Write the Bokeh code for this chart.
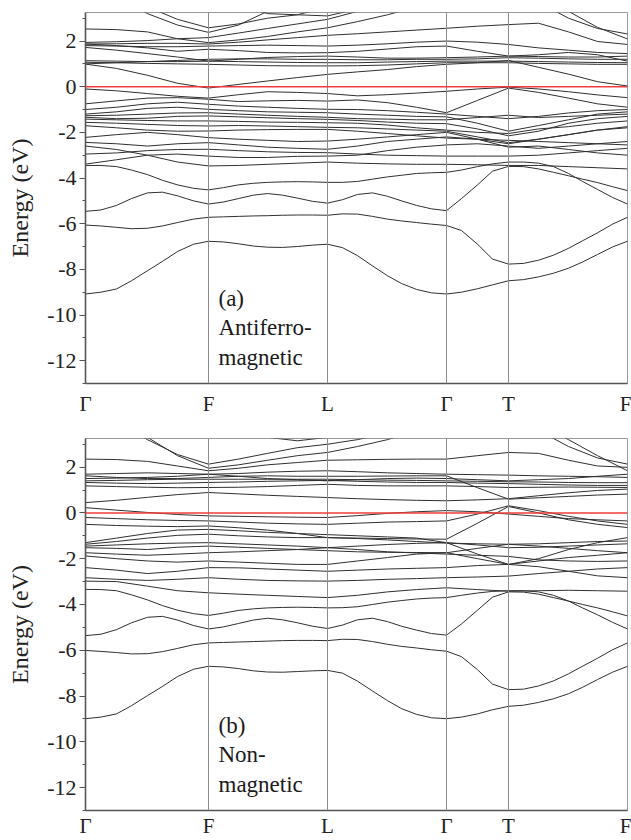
from bokeh.plotting import figure
from bokeh.models import FixedTicker, Span, Label
from bokeh.layouts import column
from bokeh.embed import file_html
from bokeh.resources import INLINE

# ---------------- data ----------------
K_LABELS = ["Γ", "F", "L", "Γ", "T", "F"]
K_TICKS = [0.0, 1.23, 2.42, 3.61, 4.23, 5.42]
# sampling used for the dense bands
K_GRID = [0.0, 0.31, 0.62, 0.92, 1.23, 1.53, 1.82, 2.12, 2.42, 2.72, 3.02,
          3.31, 3.61, 3.92, 4.23, 4.53, 4.83, 5.12, 5.42]
# finer sampling used for the four isolated low bands
K_FINE = [0.0, 0.154, 0.31, 0.46, 0.62, 0.77, 0.92, 1.08, 1.23,
          1.38, 1.53, 1.68, 1.82, 1.97, 2.12, 2.27, 2.42,
          2.57, 2.72, 2.87, 3.02, 3.16, 3.31, 3.46, 3.61,
          3.76, 3.92, 4.07, 4.23,
          4.38, 4.53, 4.68, 4.83, 4.97, 5.12, 5.27, 5.42]
Y_TICKS = [-12, -10, -8, -6, -4, -2, 0, 2]
Y_TICK_LABELS = ["-12", "-10", "-8", "-6", "-4", "-2", "0", "2"]
Y_MINOR = [-13, -11, -9, -7, -5, -3, -1, 1, 3]

# (a) antiferromagnetic
AFM_LOW = [
    [-9.08, -9.00, -8.86, -8.50, -8.06, -7.65, -7.22, -6.90, -6.77,
     -6.80, -6.88, -6.98, -7.03, -7.04, -7.00, -6.94, -6.90,
     -7.05, -7.40, -7.85, -8.28, -8.62, -8.88, -9.03, -9.08,
     -9.00, -8.85, -8.68, -8.50,
     -8.45, -8.33, -8.17, -7.95, -7.68, -7.35, -7.02, -6.77],
    [-6.06, -6.10, -6.16, -6.22, -6.20, -6.10, -5.95, -5.80, -5.72,
     -5.70, -5.68, -5.66, -5.65, -5.63, -5.62, -5.62, -5.63,
     -5.57, -5.58, -5.68, -5.80, -5.88, -5.95, -6.02, -6.08,
     -6.30, -6.90, -7.55, -7.77,
     -7.74, -7.60, -7.38, -7.08, -6.75, -6.40, -6.02, -5.72],
    [-5.46, -5.40, -5.20, -4.90, -4.65, -4.62, -4.78, -5.00, -5.14,
     -5.05, -4.90, -4.75, -4.68, -4.75, -4.88, -5.02, -5.10,
     -4.95, -4.72, -4.65, -4.80, -5.00, -5.20, -5.35, -5.43,
     -4.90, -4.30, -3.70, -3.49,
     -3.50, -3.60, -3.75, -3.90, -4.05, -4.20, -4.38, -4.55],
    [-3.45, -3.45, -3.50, -3.65, -3.85, -4.10, -4.30, -4.45, -4.52,
     -4.42, -4.30, -4.23, -4.19, -4.17, -4.16, -4.17, -4.19,
     -4.19, -4.15, -4.05, -3.95, -3.88, -3.80, -3.77, -3.75,
     -3.65, -3.50, -3.38, -3.30,
     -3.30, -3.35, -3.50, -3.80, -4.15, -4.50, -4.85, -5.14],
]
AFM_MID = [
    [-0.10, -0.18, -0.30, -0.42, -0.50, -0.35, -0.22, -0.25, -0.30, -0.40, -0.35, -0.28, -0.20, -0.10, -0.02, -0.10, -0.22, -0.36, -0.48],
    [-0.75, -0.62, -0.50, -0.48, -0.55, -0.65, -0.62, -0.60, -0.63, -0.58, -0.70, -0.90, -1.14, -0.60, -0.06, -0.25, -0.50, -0.75, -0.90],
    [-1.00, -0.90, -0.75, -0.68, -0.77, -0.85, -0.90, -0.95, -0.99, -1.00, -1.05, -1.12, -1.20, -1.30, -1.40, -1.30, -1.15, -1.05, -1.00],
    [-1.20, -1.10, -0.95, -0.90, -0.99, -1.05, -1.10, -1.12, -1.14, -1.20, -1.25, -1.30, -1.32, -1.60, -1.95, -1.70, -1.45, -1.20, -1.10],
    [-1.27, -1.25, -1.20, -1.15, -1.14, -1.20, -1.25, -1.30, -1.34, -1.40, -1.42, -1.45, -1.45, -1.35, -1.25, -1.35, -1.30, -1.25, -1.20],
    [-1.34, -1.40, -1.38, -1.30, -1.28, -1.32, -1.36, -1.40, -1.43, -1.48, -1.55, -1.60, -1.62, -1.85, -2.15, -1.95, -1.60, -1.40, -1.30],
    [-1.42, -1.45, -1.48, -1.50, -1.50, -1.52, -1.55, -1.56, -1.58, -1.60, -1.68, -1.80, -1.90, -2.00, -2.05, -1.85, -1.75, -1.60, -1.50],
    [-1.56, -1.60, -1.65, -1.70, -1.72, -1.70, -1.72, -1.75, -1.78, -1.80, -1.85, -1.90, -1.95, -2.20, -2.45, -2.30, -2.10, -1.90, -1.75],
    [-1.71, -1.80, -1.90, -1.95, -1.94, -1.90, -1.88, -1.87, -1.87, -1.95, -2.05, -2.15, -2.25, -2.30, -2.35, -2.40, -2.45, -2.50, -2.55],
    [-2.22, -2.10, -2.00, -2.10, -2.23, -2.30, -2.35, -2.40, -2.38, -2.30, -2.20, -2.10, -2.00, -2.30, -2.65, -2.60, -2.75, -2.90, -3.00],
    [-2.44, -2.50, -2.60, -2.50, -2.45, -2.55, -2.65, -2.70, -2.74, -2.60, -2.40, -2.30, -2.20, -2.30, -2.50, -2.30, -2.10, -1.90, -1.80],
    [-2.95, -2.90, -2.80, -2.75, -2.74, -2.80, -2.85, -2.88, -2.89, -2.95, -3.00, -3.02, -3.04, -3.04, -3.04, -3.00, -2.90, -2.80, -2.70],
    [-3.39, -3.20, -3.00, -2.95, -3.04, -3.10, -3.10, -3.05, -3.04, -3.00, -2.80, -2.65, -2.55, -2.50, -2.60, -2.70, -2.60, -2.50, -2.40],
    [-2.60, -2.75, -3.00, -3.30, -3.47, -3.45, -3.40, -3.35, -3.30, -3.35, -3.38, -3.40, -3.40, -3.42, -3.45, -3.45, -3.50, -3.55, -3.60],
]
AFM_UP = [
    [0.99, 0.80, 0.50, 0.15, -0.06, 0.10, 0.25, 0.40, 0.54, 0.65, 0.75, 0.88, 0.98, 1.05, 1.15, 0.85, 0.55, 0.22, 0.03],
    [1.07, 1.05, 1.02, 1.00, 0.98, 0.95, 0.92, 0.91, 0.91, 0.92, 0.95, 1.00, 1.05, 1.05, 1.05, 1.02, 1.00, 0.98, 0.98],
    [1.14, 1.12, 1.10, 1.10, 1.12, 1.10, 1.08, 1.06, 1.05, 1.05, 1.08, 1.10, 1.12, 1.12, 1.12, 1.10, 1.08, 1.06, 1.05],
    [1.00, 1.05, 1.10, 1.15, 1.20, 1.22, 1.22, 1.20, 1.20, 1.18, 1.18, 1.20, 1.20, 1.22, 1.27, 1.25, 1.22, 1.20, 1.20],
    [1.72, 1.60, 1.45, 1.30, 1.12, 1.20, 1.28, 1.32, 1.34, 1.30, 1.25, 1.25, 1.27, 1.30, 1.34, 1.32, 1.30, 1.30, 1.34],
    [1.87, 1.80, 1.70, 1.55, 1.64, 1.58, 1.50, 1.48, 1.49, 1.55, 1.65, 1.75, 1.78, 1.55, 1.34, 1.40, 1.50, 1.40, 1.12],
    [1.80, 1.78, 1.75, 1.75, 1.78, 1.80, 1.82, 1.80, 1.78, 1.82, 1.88, 1.95, 2.00, 1.95, 1.85, 1.70, 1.60, 1.50, 1.45],
    [1.87, 1.88, 1.90, 1.90, 1.87, 1.95, 2.05, 2.15, 2.25, 2.32, 2.40, 2.48, 2.56, 2.65, 2.72, 2.78, 2.40, 1.98, 1.85],
    [1.94, 1.97, 2.02, 2.10, 2.15, 2.35, 2.55, 2.75, 2.95, 3.30, 3.70, 4.10, 4.40, 4.40, 4.40, 4.40, 4.40, 4.40, 4.40],
    [2.53, 2.50, 2.40, 2.10, 1.93, 2.05, 2.20, 2.40, 2.58, 2.85, 3.15, 3.50, 3.90, 4.20, 4.30, 4.30, 4.30, 4.30, 4.30],
    [4.50, 3.90, 3.20, 2.70, 2.38, 2.70, 3.30, 3.90, 4.50, 4.50, 4.50, 4.50, 4.50, 4.50, 4.50, 4.50, 4.50, 4.50, 4.50],
    [4.60, 4.10, 3.50, 2.95, 2.58, 2.75, 3.00, 3.15, 3.10, 3.40, 3.80, 4.30, 4.60, 4.60, 4.60, 4.60, 4.60, 4.60, 4.60],
    [4.80, 4.80, 4.80, 4.80, 4.80, 4.80, 4.80, 4.80, 4.80, 4.80, 4.80, 4.80, 4.80, 4.50, 4.20, 3.70, 3.00, 2.55, 2.31],
    [4.90, 4.90, 4.90, 4.90, 4.90, 4.90, 4.90, 4.90, 4.90, 4.90, 4.90, 4.90, 4.90, 4.70, 4.50, 3.90, 3.30, 2.60, 2.09],
    [5.00, 5.00, 5.00, 5.00, 5.00, 3.60, 3.20, 3.15, 3.50, 4.00, 5.00, 5.00, 5.00, 5.00, 5.00, 5.00, 5.00, 5.00, 5.00],
]

# (b) non-magnetic
NM_LOW = [
    [-8.99, -8.92, -8.78, -8.42, -7.98, -7.58, -7.15, -6.83, -6.70,
     -6.73, -6.80, -6.90, -6.95, -6.96, -6.93, -6.90, -6.88,
     -7.00, -7.35, -7.78, -8.20, -8.55, -8.80, -8.95, -8.99,
     -8.92, -8.78, -8.60, -8.45,
     -8.40, -8.28, -8.12, -7.90, -7.62, -7.28, -6.96, -6.70],
    [-6.01, -6.05, -6.10, -6.16, -6.15, -6.06, -5.92, -5.76, -5.68,
     -5.66, -5.64, -5.62, -5.60, -5.58, -5.57, -5.57, -5.58,
     -5.52, -5.53, -5.62, -5.74, -5.83, -5.90, -5.98, -6.04,
     -6.28, -6.85, -7.48, -7.72,
     -7.70, -7.56, -7.34, -7.03, -6.70, -6.35, -5.98, -5.68],
    [-5.36, -5.30, -5.10, -4.80, -4.56, -4.52, -4.68, -4.92, -5.07,
     -4.98, -4.83, -4.68, -4.60, -4.67, -4.80, -4.95, -5.05,
     -4.90, -4.67, -4.60, -4.75, -4.95, -5.12, -5.27, -5.34,
     -4.85, -4.25, -3.68, -3.45,
     -3.46, -3.55, -3.70, -3.85, -4.00, -4.15, -4.32, -4.50],
    [-3.34, -3.35, -3.40, -3.58, -3.80, -4.05, -4.25, -4.40, -4.48,
     -4.38, -4.26, -4.19, -4.15, -4.13, -4.12, -4.13, -4.15,
     -4.14, -4.10, -4.00, -3.90, -3.83, -3.76, -3.72, -3.70,
     -3.60, -3.50, -3.43, -3.40,
     -3.40, -3.45, -3.60, -3.85, -4.15, -4.45, -4.78, -5.07],
]
NM_MID = [
    [0.23, 0.12, 0.02, -0.07, -0.13, -0.15, -0.17, -0.19, -0.20, -0.12, -0.02, 0.05, 0.10, 0.05, -0.05, -0.15, -0.25, -0.30, -0.35],
    [-0.20, -0.25, -0.30, -0.33, -0.35, -0.40, -0.45, -0.48, -0.50, -0.45, -0.40, -0.38, -0.35, -0.05, 0.31, 0.10, -0.15, -0.35, -0.50],
    [-0.50, -0.55, -0.58, -0.60, -0.57, -0.65, -0.75, -0.90, -1.08, -1.10, -1.12, -1.14, -1.15, -0.45, 0.28, 0.00, -0.30, -0.50, -0.64],
    [-1.30, -1.10, -0.90, -0.75, -0.72, -0.78, -0.85, -0.90, -0.95, -1.00, -1.05, -1.10, -1.30, -1.80, -2.25, -2.00, -1.60, -1.30, -1.08],
    [-1.37, -1.25, -1.10, -0.98, -0.93, -1.00, -1.05, -1.08, -1.08, -1.12, -1.18, -1.25, -1.32, -1.35, -1.37, -1.35, -1.30, -1.25, -1.23],
    [-1.45, -1.40, -1.35, -1.32, -1.30, -1.35, -1.40, -1.45, -1.52, -1.45, -1.38, -1.33, -1.30, -1.40, -1.52, -1.50, -1.45, -1.40, -1.35],
    [-1.52, -1.55, -1.60, -1.50, -1.45, -1.50, -1.55, -1.60, -1.65, -1.70, -1.72, -1.73, -1.74, -1.55, -1.37, -1.45, -1.55, -1.65, -1.74],
    [-1.74, -1.80, -1.85, -1.80, -1.74, -1.70, -1.65, -1.60, -1.52, -1.60, -1.70, -1.75, -1.80, -1.85, -1.90, -2.05, -2.10, -2.12, -2.10],
    [-1.88, -2.00, -2.10, -2.15, -2.10, -2.15, -2.20, -2.25, -2.25, -2.10, -1.95, -1.80, -1.74, -2.00, -2.25, -2.10, -1.95, -1.85, -1.74],
    [-2.39, -2.50, -2.65, -2.55, -2.39, -2.40, -2.45, -2.50, -2.55, -2.50, -2.45, -2.42, -2.39, -2.30, -2.25, -2.35, -2.55, -2.75, -2.83],
    [-2.83, -2.90, -2.95, -2.90, -2.83, -2.90, -2.95, -2.97, -2.98, -2.95, -2.90, -2.87, -2.83, -2.80, -2.76, -2.65, -2.55, -2.45, -2.39],
    [-2.98, -3.00, -3.20, -3.40, -3.49, -3.55, -3.60, -3.65, -3.70, -3.60, -3.45, -3.35, -3.27, -3.35, -3.42, -3.40, -3.38, -3.40, -3.42],
]
NM_UP = [
    [0.45, 0.55, 0.68, 0.80, 0.89, 0.83, 0.77, 0.72, 0.67, 0.62, 0.58, 0.55, 0.53, 0.57, 0.62, 0.75, 0.88, 0.98, 1.04],
    [1.18, 1.15, 1.12, 1.10, 1.11, 1.12, 1.15, 1.20, 1.25, 1.20, 1.18, 1.18, 1.18, 1.15, 1.11, 1.12, 1.13, 1.12, 1.11],
    [1.33, 1.30, 1.28, 1.30, 1.33, 1.35, 1.38, 1.40, 1.42, 1.38, 1.35, 1.33, 1.33, 1.30, 1.28, 1.25, 1.22, 1.20, 1.20],
    [1.40, 1.42, 1.45, 1.47, 1.47, 1.47, 1.47, 1.47, 1.47, 1.45, 1.43, 1.42, 1.40, 1.38, 1.36, 1.35, 1.33, 1.32, 1.32],
    [1.62, 1.55, 1.50, 1.50, 1.55, 1.60, 1.62, 1.60, 1.60, 1.60, 1.61, 1.62, 1.62, 1.10, 0.60, 0.66, 0.72, 0.78, 0.82],
    [1.69, 1.72, 1.75, 1.72, 1.69, 1.72, 1.78, 1.82, 1.84, 1.80, 1.75, 1.72, 1.69, 1.67, 1.65, 1.62, 1.60, 1.58, 1.55],
    [1.50, 1.52, 1.55, 1.60, 1.69, 1.60, 1.50, 1.45, 1.40, 1.45, 1.50, 1.52, 1.50, 1.45, 1.40, 1.45, 1.50, 1.60, 1.69],
    [2.35, 2.33, 2.25, 2.05, 1.84, 1.95, 2.10, 2.20, 2.30, 2.32, 2.34, 2.35, 2.35, 2.50, 2.64, 2.60, 2.30, 2.05, 1.99],
    [4.50, 3.90, 3.20, 2.55, 2.13, 2.35, 2.60, 2.85, 3.00, 3.20, 3.50, 4.00, 4.50, 4.50, 4.50, 4.50, 4.50, 4.50, 4.50],
    [4.60, 4.00, 3.30, 2.50, 1.95, 2.10, 2.30, 2.50, 2.64, 2.90, 3.20, 3.60, 4.20, 4.50, 4.50, 4.50, 4.50, 4.50, 4.50],
    [5.00, 5.00, 5.00, 5.00, 5.00, 5.00, 5.00, 5.00, 5.00, 5.00, 5.00, 5.00, 5.00, 4.60, 4.20, 3.60, 2.90, 2.40, 2.13],
    [5.00, 5.00, 5.00, 5.00, 5.00, 5.00, 5.00, 5.00, 5.00, 5.00, 5.00, 5.00, 5.00, 4.80, 4.50, 3.90, 3.20, 2.50, 1.84],
    [5.00, 5.00, 5.00, 5.00, 5.00, 3.80, 3.30, 3.15, 3.30, 3.80, 5.00, 5.00, 5.00, 5.00, 5.00, 5.00, 5.00, 5.00, 5.00],
]

PANEL_A_TEXT = ["(a)", "Antiferro-", "magnetic"]
PANEL_B_TEXT = ["(b)", "Non-", "magnetic"]
Y_TITLE = "Energy (eV)"

SERIF = "Liberation Serif"
BAND_COLOR = "#303030"


def make_panel(low, dense, texts, height, top, bottom, standoff):
    p = figure(width=631, height=height, x_range=(K_TICKS[0], K_TICKS[-1]),
               y_range=(-13.0, 3.25), output_backend="svg", toolbar_location=None,
               min_border_left=85, min_border_right=4, min_border_top=top,
               min_border_bottom=bottom)
    p.grid.visible = False
    p.background_fill_color = "white"
    p.outline_line_color = "#9a9a9a"
    p.outline_line_width = 1

    for k in K_TICKS[1:-1]:
        p.add_layout(Span(location=k, dimension="height", line_color="#8c8c8c", line_width=1))

    p.multi_line(xs=[K_GRID] * len(dense), ys=dense, line_color=BAND_COLOR, line_width=1.0)
    p.multi_line(xs=[K_FINE] * len(low), ys=low, line_color=BAND_COLOR, line_width=1.0)

    p.add_layout(Span(location=0, dimension="width", line_color="#f03c3c", line_width=1.5))

    ya = p.yaxis[0]
    ya.ticker = FixedTicker(ticks=Y_TICKS, minor_ticks=Y_MINOR)
    ya.major_label_overrides = {t: s for t, s in zip(Y_TICKS, Y_TICK_LABELS)}
    ya.major_label_text_font = SERIF
    ya.major_label_text_font_size = "22px"
    ya.major_label_text_color = "#222222"
    ya.major_label_standoff = 3
    ya.major_tick_in = 0
    ya.major_tick_out = 6
    ya.minor_tick_in = 0
    ya.minor_tick_out = 3
    ya.axis_line_color = "#555555"
    ya.axis_line_width = 1.6
    ya.major_tick_line_color = "#555555"
    ya.minor_tick_line_color = "#555555"
    ya.axis_label = Y_TITLE
    ya.axis_label_text_font = SERIF
    ya.axis_label_text_font_size = "24px"
    ya.axis_label_text_font_style = "normal"
    ya.axis_label_text_color = "#222222"
    ya.axis_label_standoff = 11

    xa = p.xaxis[0]
    xa.ticker = FixedTicker(ticks=K_TICKS)
    xa.major_label_overrides = {k: lab for k, lab in zip(K_TICKS, K_LABELS)}
    xa.major_label_text_font = SERIF
    xa.major_label_text_font_size = "21px"
    xa.major_label_text_color = "#222222"
    xa.major_label_standoff = standoff
    xa.major_tick_in = 0
    xa.major_tick_out = 0
    xa.minor_tick_line_color = None
    xa.axis_line_color = "#555555"
    xa.axis_line_width = 1.6

    for txt, yb in zip(texts, [-9.29, -10.56, -11.85]):
        p.add_layout(Label(x=1.33, y=yb, text=txt, text_font=SERIF,
                           text_font_size="23px", text_color="#1a1a1a",
                           text_baseline="alphabetic", text_align="left"))
    return p


p1 = make_panel(AFM_LOW, AFM_MID + AFM_UP, PANEL_A_TEXT, 425, 12, 42, 8)
p2 = make_panel(NM_LOW, NM_MID + NM_UP, PANEL_B_TEXT, 415, 13, 30, 3)

layout = column(p1, p2, spacing=0)
open("out.html", "w").write(file_html(layout, INLINE))
